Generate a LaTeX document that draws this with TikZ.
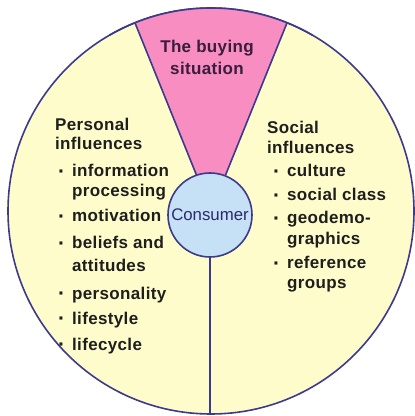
\documentclass[tikz,border=0pt]{standalone}
\usepackage{fontspec}
\usetikzlibrary{calc}
\setmainfont{Liberation Sans}
\definecolor{rimline}{HTML}{3C3A8C}
\definecolor{paleyellow}{HTML}{FFFCCB}
\definecolor{wedgepink}{HTML}{F78DC0}
\definecolor{paleblue}{HTML}{C6E1F6}
\definecolor{inktext}{HTML}{1E1E1E}
\definecolor{wedgetext}{HTML}{3A1C3C}
\definecolor{coretext}{HTML}{2A2A6A}
\tikzset{
  outline/.style={draw=rimline, line width=1.6pt},
  label/.style={font=\fontsize{17}{20}\selectfont\bfseries\addfontfeature{LetterSpace=2},
    text=inktext, inner sep=0pt, text height=12pt, text depth=4pt, anchor=west},
}
\newcommand{\bul}{\makebox[0pt][r]{\raisebox{-1.8pt}{\fontsize{21}{21}\selectfont\textperiodcentered}\hspace{7pt}}}
\begin{document}
\begin{tikzpicture}[x=1pt,y=1pt]
  \useasboundingbox (0,0) rectangle (415,416);
  % outer disc
  \coordinate (c) at (211,205);
  \node[circle, outline, fill=paleyellow, minimum size=406pt, inner sep=0pt] (disc) at (c) {};
  % buying situation wedge
  \fill[wedgepink] (c) -- ++(68:203) arc[start angle=68, end angle=112, radius=203] -- cycle;
  \draw[rimline, line width=1.6pt, line join=round] ($(c)+(112:203)$) -- (c) -- ($(c)+(68:203)$);
  \draw[outline] (c) ++(60:203) arc[start angle=60, end angle=120, radius=203];
  % consumer core
  \node[circle, outline, fill=paleblue, minimum size=84pt, inner sep=0pt,
        font=\fontsize{16.8}{20}\selectfont, text=coretext] (core) at (210,201) {Consumer};
  \draw[outline] (core.south) -- (core.south |- disc.south);
  % wedge title
  \node[font=\fontsize{17}{22}\selectfont\bfseries\addfontfeature{LetterSpace=2}, text=wedgetext,
        align=center, inner sep=0pt] (buy) at (207,359) {The buying\\situation};
  % personal influences
  \node[label] (p1) at (55,289) {Personal};
  \node[label] (p2) at (55,270) {influences};
  \node[label] (p3) at (72,243) {\bul information};
  \node[label] (p4) at (72,223) {processing};
  \node[label] (p5) at (72,198) {\bul motivation};
  \node[label] (p6) at (72,171) {\bul beliefs and};
  \node[label] (p7) at (72,148) {attitudes};
  \node[label] (p8) at (72,121) {\bul personality};
  \node[label] (p9) at (72,96) {\bul lifestyle};
  \node[label] (p10) at (72,70) {\bul lifecycle};
  % social influences
  \node[label] (s1) at (267,286) {Social};
  \node[label] (s2) at (267,266) {influences};
  \node[label] (s3) at (287,243) {\bul culture};
  \node[label] (s4) at (287,219) {\bul social class};
  \node[label] (s5) at (287,196) {\bul geodemo-};
  \node[label] (s6) at (287,175) {graphics};
  \node[label] (s7) at (287,151) {\bul reference};
  \node[label] (s8) at (287,131) {groups};
\end{tikzpicture}
\end{document}
